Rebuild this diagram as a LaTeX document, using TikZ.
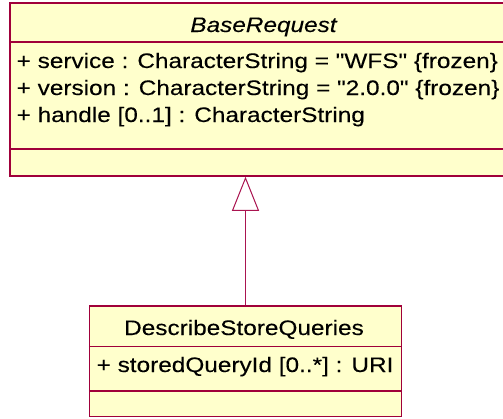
\documentclass[tikz,border=0pt]{standalone}
\usepackage{fontspec}
\setmainfont[FakeStretch=1.16, Ligatures=TeXOff, FakeBold=0.15]{Liberation Sans}
\usetikzlibrary{arrows.meta}
\definecolor{umlborder}{RGB}{160,0,58}
\definecolor{umlfill}{RGB}{255,255,204}
\definecolor{umlarrow}{RGB}{170,20,80}
\tikzset{
  classbox/.style={draw=umlborder, fill=umlfill, line width=1.5pt, rectangle, inner sep=0pt},
  sepline/.style={draw=umlborder, line width=1.2pt},
  attr/.style={anchor=base west, inner sep=0pt, font=\fontsize{21}{25}\selectfont},
  cname/.style={anchor=base, inner sep=0pt, font=\fontsize{21}{25}\selectfont},
  generalization/.style={draw=umlarrow, line width=1pt, -{Triangle[open, length=34pt, width=27pt, fill=white]}}
}
\begin{document}
\begin{tikzpicture}[x=1pt, y=-1pt]
\useasboundingbox (0,0) rectangle (503,418);
% BaseRequest class
\node[classbox, minimum width=507pt, minimum height=173pt] (base) at (263.5,89.5) {};
\draw[sepline] (base.west |- 0,42) coordinate (bs1) -- (base.east |- 0,42) coordinate (bs2);
\draw[sepline] (base.west |- 0,149) coordinate (bs3) -- (base.east |- 0,149) coordinate (bs4);
\node[cname, font=\fontsize{21}{25}\selectfont\itshape] (basename) at (263.5,32) {BaseRequest};
\node[attr] (a1) at (16.5,68) {+ service : CharacterString = "WFS" \{frozen\}};
\node[attr] (a2) at (16.5,95) {+ version : CharacterString = "2.0.0" \{frozen\}};
\node[attr] (a3) at (16.5,122) {+ handle [0..1] : CharacterString};
% DescribeStoreQueries class
\node[classbox, minimum width=312pt, minimum height=110.5pt] (dsq) at (245.5,361.25) {};
\draw[sepline] (dsq.west |- 0,346.5) coordinate (ds1) -- (dsq.east |- 0,346.5) coordinate (ds2);
\draw[sepline] (dsq.west |- 0,391) coordinate (ds3) -- (dsq.east |- 0,391) coordinate (ds4);
\node[cname] (dsqname) at (244,335) {DescribeStoreQueries};
\node[attr] (b1) at (96.5,372) {+ storedQueryId [0..*] : URI};
% generalization
\draw[generalization] (dsq.north) -- (dsq.north |- base.south);
\end{tikzpicture}
\end{document}
